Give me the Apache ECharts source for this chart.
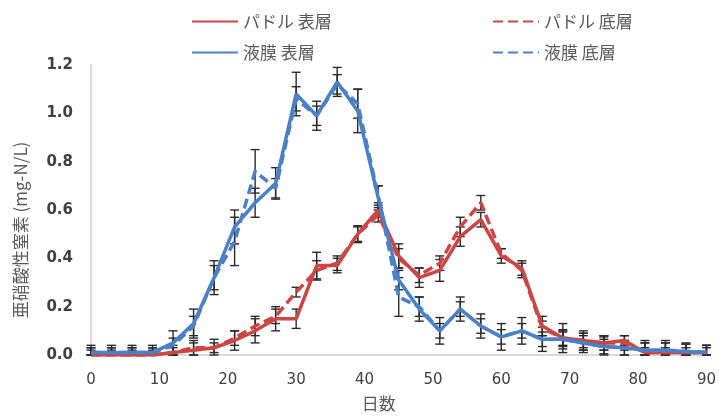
<!DOCTYPE html>
<html>
<head>
<meta charset="utf-8">
<script src="https://cdn.jsdelivr.net/npm/echarts@6/dist/echarts.min.js"></script>
<style>html,body{margin:0;padding:0;background:#fff}#c{width:719px;height:418px}</style>
</head>
<body>
<div id="c"></div>
<script>
const days = [0,3,6,9,12,15,18,21,24,27,30,33,36,39,42,45,48,51,54,57,60,63,66,69,72,75,78,81,84,87,90];
const seriesNames = ['パドル 表層','パドル 底層','液膜 表層','液膜 底層'];
const paddleSurf = [0.00,0.00,0.00,0.00,0.01,0.02,0.03,0.06,0.10,0.15,0.15,0.37,0.37,0.50,0.60,0.41,0.32,0.35,0.49,0.56,0.41,0.36,0.12,0.07,0.06,0.05,0.06,0.01,0.01,0.01,0.01];
const paddleBot  = [0.00,0.00,0.00,0.00,0.01,0.03,0.03,0.07,0.12,0.16,0.26,0.35,0.38,0.50,0.58,0.40,0.33,0.38,0.53,0.63,0.42,0.35,0.11,0.07,0.06,0.05,0.05,0.01,0.01,0.01,0.01];
const filmSurf   = [0.01,0.01,0.01,0.01,0.05,0.13,0.32,0.53,0.63,0.71,1.08,0.99,1.13,1.01,0.65,0.31,0.19,0.10,0.19,0.12,0.075,0.10,0.065,0.065,0.05,0.035,0.03,0.02,0.02,0.015,0.01];
const filmBot    = [0.01,0.01,0.01,0.01,0.04,0.12,0.32,0.47,0.76,0.69,1.06,0.99,1.12,1.04,0.66,0.24,0.20,0.10,0.19,0.12,0.075,0.10,0.065,0.065,0.05,0.035,0.03,0.02,0.02,0.015,0.01];
const paddleSurfErr = [0.02,0.02,0.02,0.02,0.02,0.03,0.035,0.04,0.05,0.05,0.04,0.055,0.03,0.035,0.03,0.05,0.04,0.045,0.04,0.03,0.03,0.03,0.04,0.06,0.04,0.03,0.02,0.04,0.04,0.04,0.03];
const paddleBotErr  = [0.03,0.03,0.03,0.03,0.03,0.03,0.02,0.03,0.04,0.03,0.02,0.04,0.03,0.03,0.03,0.04,0.03,0.03,0.04,0.03,0.02,0.03,0.03,0.03,0.03,0.03,0.03,0.02,0.02,0.02,0.02];
const filmSurfErr   = [0.03,0.03,0.03,0.03,0.05,0.06,0.07,0.07,0.06,0.065,0.09,0.06,0.06,0.09,0.05,0.04,0.05,0.055,0.05,0.05,0.055,0.055,0.05,0.04,0.04,0.04,0.03,0.04,0.04,0.03,0.03];
const filmBotErr    = [0.02,0.02,0.02,0.02,0.03,0.04,0.05,0.10,0.09,0.04,0.05,0.04,0.04,0.06,0.04,0.08,0.04,0.03,0.03,0.03,0.03,0.03,0.03,0.03,0.03,0.03,0.03,0.03,0.03,0.03,0.03];
const xTicks = {min:0, max:90, interval:10};
const yTicks = {min:0, max:1.2, interval:0.2};

const RED = '#cc4643', BLUE = '#4a80c8';
const pair = (vals) => days.map((d,i)=>[d, vals[i]]);
const errData = (vals, errs) => days.map((d,i)=>[d, Math.max(0, vals[i]-errs[i]), vals[i]+errs[i]]);

function renderErr(params, api){
  const lo = api.coord([api.value(0), api.value(1)]);
  const hi = api.coord([api.value(0), api.value(2)]);
  const w = 4.5;
  const st = {stroke:'#2a2a2a', lineWidth:1.4};
  return {type:'group', children:[
    {type:'line', shape:{x1:lo[0],y1:lo[1],x2:hi[0],y2:hi[1]}, style:st},
    {type:'line', shape:{x1:lo[0]-w,y1:lo[1],x2:lo[0]+w,y2:lo[1]}, style:st},
    {type:'line', shape:{x1:hi[0]-w,y1:hi[1],x2:hi[0]+w,y2:hi[1]}, style:st}
  ]};
}
function errSeries(vals, errs){
  return {type:'custom', renderItem:renderErr, data:errData(vals, errs), encode:{x:0,y:[1,2]}, z:1, silent:true, tooltip:{show:false}};
}
function lineSeries(name, vals, color, dashed){
  return {name:name, type:'line', data:pair(vals), symbol:'none', showSymbol:false, z:3,
    lineStyle:{color:color, width:3.5, type: dashed ? [10,5] : 'solid'},
    itemStyle:{color:color}};
}

const chart = echarts.init(document.getElementById('c'));
const legendText = {fontSize:17, color:'#595959', fontFamily:'Noto Sans CJK JP'};
const legendBase = {orient:'vertical', top:8, itemWidth:46, itemHeight:14, itemGap:14, textStyle:legendText, itemStyle:{opacity:0}};
chart.setOption({
  animation:false,
  backgroundColor:'#fff',
  grid:{left:91, top:65, right:11, bottom:63, containLabel:false},
  legend:[
    Object.assign({data:[seriesNames[0], seriesNames[2]], left:186}, legendBase),
    Object.assign({data:[seriesNames[1], seriesNames[3]], left:487}, legendBase)
  ],
  xAxis:{type:'value', min:xTicks.min, max:xTicks.max, interval:xTicks.interval,
    name:'日数', nameLocation:'middle', nameGap:40,
    nameTextStyle:{fontSize:17, color:'#595959', fontFamily:'Noto Sans CJK JP', padding:[0,40,0,0]},
    axisLine:{lineStyle:{color:'#d9d9d9', width:2}}, axisTick:{show:false}, splitLine:{show:false},
    axisLabel:{fontSize:15, color:'#404040', fontFamily:'DejaVu Sans', margin:18}},
  yAxis:{type:'value', min:yTicks.min, max:yTicks.max, interval:yTicks.interval,
    name:'亜硝酸性窒素 (mg-N/L)', nameLocation:'middle', nameGap:62,
    nameTextStyle:{fontSize:17, color:'#595959', fontFamily:'Noto Sans CJK JP', padding:[0,40,0,0]},
    axisLine:{show:true, lineStyle:{color:'#d9d9d9', width:2}}, axisTick:{show:false}, splitLine:{show:false},
    axisLabel:{fontSize:15, color:'#404040', fontFamily:'DejaVu Sans', fontWeight:'bold', margin:18, formatter:(v)=>v.toFixed(1)}},
  series:[
    errSeries(paddleSurf, paddleSurfErr),
    errSeries(paddleBot, paddleBotErr),
    errSeries(filmSurf, filmSurfErr),
    errSeries(filmBot, filmBotErr),
    lineSeries(seriesNames[0], paddleSurf, RED, false),
    lineSeries(seriesNames[1], paddleBot, RED, true),
    lineSeries(seriesNames[2], filmSurf, BLUE, false),
    lineSeries(seriesNames[3], filmBot, BLUE, true)
  ]
});
</script>
</body>
</html>
